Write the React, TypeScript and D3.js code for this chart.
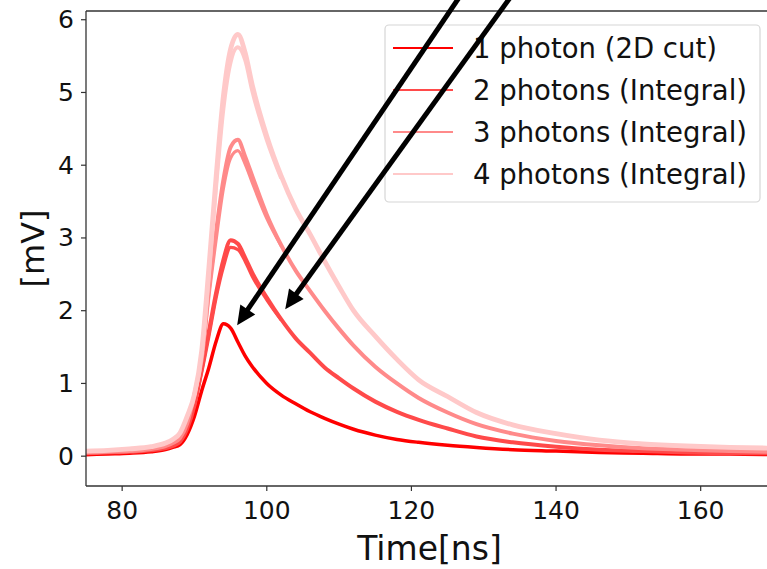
import React from "react";
import * as d3 from "d3";

// ---- data ----
const TIME = [75, 78, 81, 84, 86, 87, 88, 89, 90, 91, 92, 93, 94, 95, 96, 97, 98, 100, 102, 104, 106, 108, 110, 112, 115, 118, 121, 125, 129, 134, 140, 146, 152, 158, 164, 170];

const ONE_PHOTON = [0.02, 0.03, 0.04, 0.06, 0.09, 0.12, 0.16, 0.3, 0.55, 0.9, 1.22, 1.58, 1.82, 1.76, 1.57, 1.38, 1.23, 1.0, 0.84, 0.72, 0.61, 0.52, 0.44, 0.37, 0.29, 0.23, 0.19, 0.15, 0.12, 0.09, 0.07, 0.05, 0.04, 0.03, 0.03, 0.02];
const TWO_PHOTONS = [0.04, 0.05, 0.06, 0.08, 0.11, 0.14, 0.2, 0.38, 0.7, 1.2, 1.72, 2.25, 2.7, 2.97, 2.92, 2.73, 2.52, 2.18, 1.88, 1.62, 1.42, 1.22, 1.07, 0.93, 0.75, 0.61, 0.5, 0.38, 0.27, 0.19, 0.13, 0.09, 0.07, 0.05, 0.04, 0.04];
const THREE_PHOTONS = [0.05, 0.06, 0.07, 0.1, 0.14, 0.18, 0.25, 0.45, 0.85, 1.35, 2.3, 3.1, 3.8, 4.25, 4.35, 4.12, 3.85, 3.32, 2.9, 2.55, 2.27, 2.0, 1.75, 1.52, 1.23, 1.0, 0.8, 0.6, 0.44, 0.31, 0.21, 0.15, 0.11, 0.09, 0.07, 0.06];
const FOUR_PHOTONS = [0.07, 0.08, 0.1, 0.13, 0.18, 0.23, 0.32, 0.55, 0.85, 1.45, 2.6, 3.85, 4.95, 5.6, 5.8, 5.55, 5.1, 4.4, 3.85, 3.4, 3.05, 2.68, 2.33, 2.0, 1.65, 1.33, 1.05, 0.82, 0.6, 0.43, 0.31, 0.22, 0.17, 0.14, 0.12, 0.11];

// secondary (lower) traces around the peaks
const PEAK_TIME = [90, 91, 92, 93, 94, 95, 96, 97, 98, 100, 102];
const TWO_PHOTONS_LOW = [0.7, 1.15, 1.65, 2.18, 2.6, 2.87, 2.84, 2.68, 2.47, 2.15, 1.87];
const THREE_PHOTONS_LOW = [0.85, 1.3, 2.2, 2.98, 3.68, 4.1, 4.2, 4.02, 3.76, 3.27, 2.89];
const FOUR_PHOTONS_LOW = [0.85, 1.4, 2.5, 3.72, 4.78, 5.42, 5.62, 5.45, 5.02, 4.35, 3.82];

const LEGEND_LABELS = ["1 photon (2D cut)", "2 photons (Integral)", "3 photons (Integral)", "4 photons (Integral)"];
const X_TICKS = [80, 100, 120, 140, 160];
const Y_TICKS = [0, 1, 2, 3, 4, 5, 6];

// annotation arrows: [tailTime, tailMv, tipTime, tipMv]
const ARROWS = [
  [128.6, 6.6, 95.9, 1.8],
  [135.8, 6.6, 102.55, 2.02],
];

const COLORS = ["#ff0000", "#ff4a4a", "#ff8a8a", "#ffc9c9"];

export default function App() {
  const W = 767, H = 569;
  const left = 86, right = 773, top = 11, bottom = 486;
  const x = d3.scaleLinear().domain([75, 170]).range([left, right]);
  const y = d3.scaleLinear().domain([-0.41, 6.12]).range([bottom, top]);
  const mk = (ts: number[], vs: number[]) =>
    d3.line<number>()
      .x((_, i) => x(ts[i]))
      .y((v) => y(v))
      .curve(d3.curveMonotoneX)(vs) || "";

  const main = [ONE_PHOTON, TWO_PHOTONS, THREE_PHOTONS, FOUR_PHOTONS];
  const low = [null, TWO_PHOTONS_LOW, THREE_PHOTONS_LOW, FOUR_PHOTONS_LOW];
  const widths = [3.5, 4, 4, 4.8];
  const font = "DejaVu Sans, sans-serif";

  return (
    <svg width={W} height={H} style={{ position: "absolute", left: 0, top: 0, background: "#fff" }} fontFamily={font}>
      <defs>
        <clipPath id="plotclip">
          <rect x={left} y={top} width={right - left} height={bottom - top} />
        </clipPath>
      </defs>
      <g clipPath="url(#plotclip)">
        {main.map((vs, gi) => (
          <g key={gi}>
            <path d={mk(TIME, vs)} fill="none" stroke={COLORS[gi]} strokeWidth={widths[gi]} strokeLinejoin="round" />
            {low[gi] && (
              <path d={mk(PEAK_TIME, low[gi] as number[])} fill="none" stroke={COLORS[gi]} strokeWidth={widths[gi] - 0.8} strokeLinejoin="round" />
            )}
          </g>
        ))}
      </g>
      {/* spines */}
      <line x1={left} x2={left} y1={top} y2={bottom} stroke="#333" strokeWidth={1.3} />
      <line x1={left} x2={right} y1={bottom} y2={bottom} stroke="#333" strokeWidth={1.3} />
      <line x1={left} x2={right} y1={top} y2={top} stroke="#333" strokeWidth={1.3} />
      <line x1={right} x2={right} y1={top} y2={bottom} stroke="#333" strokeWidth={1.3} />
      {/* x ticks */}
      {X_TICKS.map((t) => (
        <g key={t}>
          <line x1={x(t)} x2={x(t)} y1={bottom} y2={bottom + 5} stroke="#333" strokeWidth={1.2} />
          <text x={x(t)} y={bottom + 24} fontSize={25} textAnchor="middle" dominantBaseline="central" fill="#111">{t}</text>
        </g>
      ))}
      {/* y ticks */}
      {Y_TICKS.map((t) => (
        <g key={t}>
          <line x1={left - 5} x2={left} y1={y(t)} y2={y(t)} stroke="#333" strokeWidth={1.2} />
          <text x={left - 12} y={y(t)} fontSize={25} textAnchor="end" dominantBaseline="central" fill="#111">{t}</text>
        </g>
      ))}
      <text x={(left + right) / 2} y={560} fontSize={33} textAnchor="middle" fill="#111">Time[ns]</text>
      <text transform={`translate(33, ${(top + bottom) / 2}) rotate(-90)`} fontSize={32} textAnchor="middle" dominantBaseline="central" fill="#111">[mV]</text>
      {/* legend */}
      <rect x={385} y={25} width={375} height={177} rx={4} fill="#fff" fillOpacity={0.8} stroke="#d6d6d6" strokeWidth={1.2} />
      {LEGEND_LABELS.map((lab, i) => {
        const cy = 48 + i * 42;
        return (
          <g key={lab}>
            <line x1={393} x2={453} y1={cy} y2={cy} stroke={COLORS[i]} strokeWidth={2.2} />
            <text x={473} y={cy} fontSize={27.5} dominantBaseline="central" fill="#111">{lab}</text>
          </g>
        );
      })}
      {/* arrows */}
      {ARROWS.map((a, i) => {
        const x0 = x(a[0]), y0 = y(a[1]), x1 = x(a[2]), y1 = y(a[3]);
        const dx = x1 - x0, dy = y1 - y0;
        const len = Math.hypot(dx, dy);
        const ux = dx / len, uy = dy / len;
        const hl = 19, hw = 9;
        const bx = x1 - ux * hl, by = y1 - uy * hl;
        const px = -uy, py = ux;
        const pts = `${x1},${y1} ${bx + px * hw},${by + py * hw} ${bx - px * hw},${by - py * hw}`;
        return (
          <g key={i}>
            <line x1={x0} y1={y0} x2={bx + ux * 2} y2={by + uy * 2} stroke="#000" strokeWidth={5} />
            <polygon points={pts} fill="#000" />
          </g>
        );
      })}
    </svg>
  );
}
